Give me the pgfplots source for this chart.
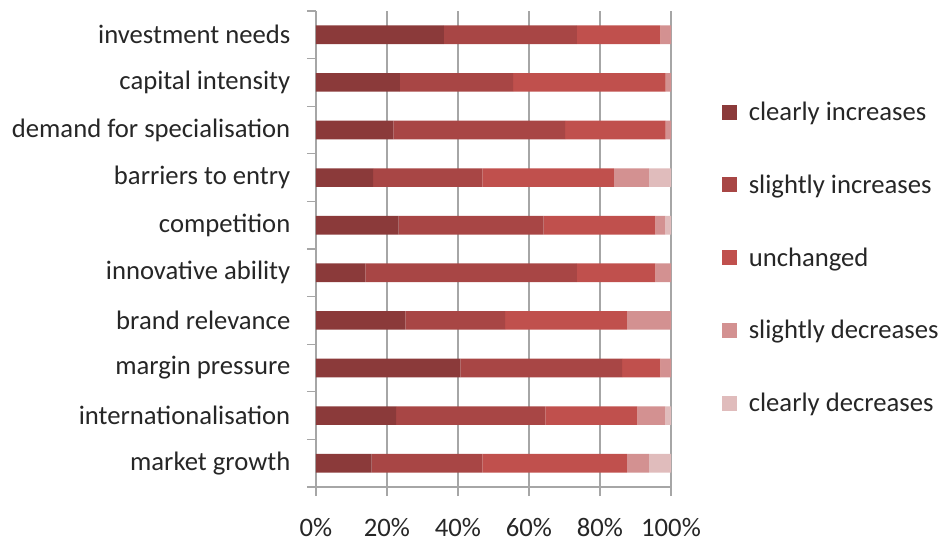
\documentclass[border=0pt]{standalone}
\usepackage{pgfplots}
\usepackage{pgfplotstable}
\pgfplotsset{compat=1.18}
\usepackage{fontspec}
\setmainfont{Carlito}
\definecolor{c1}{HTML}{8B3A3A}
\definecolor{c2}{HTML}{A84645}
\definecolor{c3}{HTML}{C0504D}
\definecolor{c4}{HTML}{D39191}
\definecolor{c5}{HTML}{E0BCBC}
\definecolor{gridc}{HTML}{A6A6A6}
\definecolor{txt}{HTML}{262626}
\pgfplotstableread{
y c1 c2 c3 c4 c5
0 15.7 31.2 40.7 6.2 6.2
1 22.6 42.0 25.9 7.9 1.6
2 40.7 45.5 10.8 3.0 0
3 25.2 28.1 34.3 12.4 0
4 13.9 59.6 22.1 4.4 0
5 23.3 40.8 31.5 2.8 1.6
6 16.1 30.8 37.0 9.9 6.2
7 21.8 48.4 28.3 1.5 0
8 23.6 31.9 43.0 1.5 0
9 36.0 37.5 23.5 3.0 0
}\data
\newcommand{\lbl}{\fontsize{20}{23}\selectfont\color{txt}}
\begin{document}
\begin{tikzpicture}
\begin{axis}[
  xbar stacked,
  scale only axis,
  width=266.25pt, height=357pt,
  xmin=0, xmax=100, ymin=-0.5, ymax=9.5,
  bar width=14pt,
  /pgf/number format/assume math mode=true,
  axis x line*=bottom, axis y line*=left,
  axis line style={gridc, line width=1pt},
  tick style={gridc, line width=1pt},
  tick align=outside,
  major tick length=6.75pt,
  xtick={0,20,...,100},
  xticklabel={\pgfmathprintnumber{\tick}\%},
  xmajorgrids,
  grid style={gridc, line width=1pt},
  ytick={-0.5,0.5,...,9.5},
  yticklabels={},
  extra y ticks={0,1,2,3,4,5,6,7,8,9},
  extra y tick labels={market growth, internationalisation, margin pressure, brand relevance, innovative ability, competition, barriers to entry, demand for specialisation, capital intensity, investment needs},
  extra y tick style={major tick length=0pt, grid=none},
  tick label style={font=\lbl},
  yticklabel style={xshift=-15.75pt},
  xticklabel style={yshift=-13pt},
  legend style={draw=none, font=\lbl, at={(rel axis cs:1.133,0.821)}, anchor=north west, row sep=35.25pt, fill=none,
    /tikz/every odd column/.append style={column sep=6.5pt}},
  legend image code/.code={\fill[#1] (0pt,-5.6pt) rectangle (11.25pt,5.6pt);},
  legend cell align=left,
]
\addplot[fill=c1, draw=none] table[x=c1, y=y] {\data};
\addplot[fill=c2, draw=none] table[x=c2, y=y] {\data};
\addplot[fill=c3, draw=none] table[x=c3, y=y] {\data};
\addplot[fill=c4, draw=none] table[x=c4, y=y] {\data};
\addplot[fill=c5, draw=none] table[x=c5, y=y] {\data};
\legend{clearly increases, slightly increases, unchanged, slightly decreases, clearly decreases}
\coordinate (O) at (rel axis cs:0,0);
\end{axis}
\pgfresetboundingbox
\path (O) ++(-237pt,-42.75pt) rectangle ++(705.75pt,408pt);
\end{tikzpicture}
\end{document}
